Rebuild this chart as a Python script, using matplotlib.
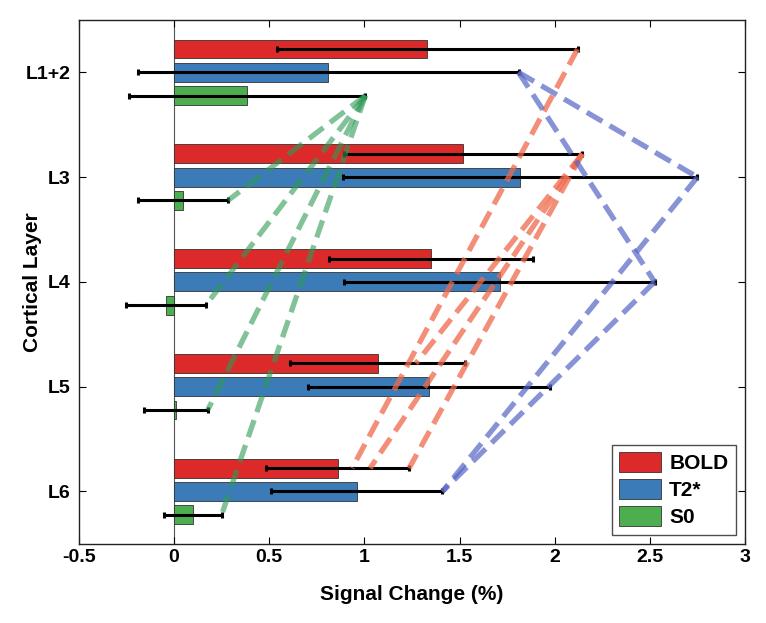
import matplotlib
matplotlib.use("Agg")
import matplotlib.pyplot as plt
import numpy as np

layers = ['L1+2', 'L3', 'L4', 'L5', 'L6']
series = ['BOLD', 'T2*', 'S0']
bold = [1.33, 1.52, 1.35, 1.07, 0.86]
bold_err = [0.79, 0.625, 0.535, 0.46, 0.375]
t2s = [0.81, 1.82, 1.71, 1.34, 0.96]
t2s_err = [1.0, 0.93, 0.815, 0.635, 0.45]
s0 = [0.385, 0.047, -0.043, 0.01, 0.098]
s0_err = [0.62, 0.237, 0.21, 0.167, 0.152]
xticks = [-0.5, 0, 0.5, 1, 1.5, 2, 2.5, 3]
xtick_labels = ['-0.5', '0', '0.5', '1', '1.5', '2', '2.5', '3']

# dashed connector lines: (series index, from layer, to layer, end x or None = error end)
links = [
    (2, 0, 1, None), (2, 0, 2, None), (2, 0, 3, None), (2, 0, 4, None),
    (0, 0, 4, 0.935), (0, 1, 4, 1.03), (0, 1, 4, None), (0, 1, 3, 1.27),
    (1, 0, 1, None), (1, 0, 2, None), (1, 1, 4, None), (1, 2, 4, None),
]

bar_colors = ['#dc2a2a', '#3b7bb8', '#4cae4f']
link_colors = ['#ef6a4c', '#5566c4', '#2e9a55']
link_alpha = [0.75, 0.7, 0.6]

plt.rcParams['font.family'] = ['Liberation Sans', 'DejaVu Sans']
plt.rcParams['font.weight'] = 'bold'

fig = plt.figure(figsize=(7.66, 6.23), dpi=100)
ax = fig.add_axes([0.103, 0.127, 0.8696, 0.841])

vals = [bold, t2s, s0]
errs = [bold_err, t2s_err, s0_err]
offsets = [-0.222, 0.0, 0.222]
base = np.arange(len(layers))

ax.axvline(0, color='#555555', lw=0.8, zorder=1)

for k in range(3):
    y = base + offsets[k]
    ax.barh(y, vals[k], height=0.18, color=bar_colors[k], edgecolor='#333333',
            linewidth=0.6, label=series[k], zorder=2)
    ax.errorbar(vals[k], y, xerr=errs[k], fmt='none', ecolor='k',
                elinewidth=2.2, capsize=2.2, capthick=2.2, zorder=3)

for (k, a, b, xe) in links:
    x1 = vals[k][a] + errs[k][a]
    y1 = a + offsets[k]
    x2 = vals[k][b] + errs[k][b] if xe is None else xe
    y2 = b + offsets[k]
    ax.plot([x1, x2], [y1, y2], color=link_colors[k], alpha=link_alpha[k],
            lw=3.8, linestyle=(0, (3.4, 1.6)), zorder=4, solid_capstyle='butt')

ax.set_xlim(-0.5, 3)
ax.set_ylim(4.5, -0.5)
ax.set_yticks(base)
ax.set_yticklabels(layers, fontsize=14, fontweight='bold')
ax.set_xticks(xticks)
ax.set_xticklabels(xtick_labels, fontsize=14, fontweight='bold')
ax.tick_params(direction='in', top=True, right=True, length=5, width=0.8, pad=6)
ax.tick_params(axis='x', pad=3.5)
for s in ax.spines.values():
    s.set_linewidth(1.0)
    s.set_color('#222222')

ax.set_xlabel('Signal Change (%)', fontsize=15, fontweight='bold', labelpad=14)
ax.set_ylabel('Cortical Layer', fontsize=15, fontweight='bold')
ax.yaxis.set_label_coords(-0.055, 0.5)

leg = ax.legend(loc='lower right', fontsize=15, frameon=True, fancybox=False,
                edgecolor='#222222', handlelength=2.0, handleheight=1.05,
                labelspacing=0.3, borderaxespad=0.45, handletextpad=0.4,
                borderpad=0.35)
leg.get_frame().set_linewidth(1.0)
for t in leg.get_texts():
    t.set_fontweight('bold')

fig.savefig('out.png', dpi=100)
